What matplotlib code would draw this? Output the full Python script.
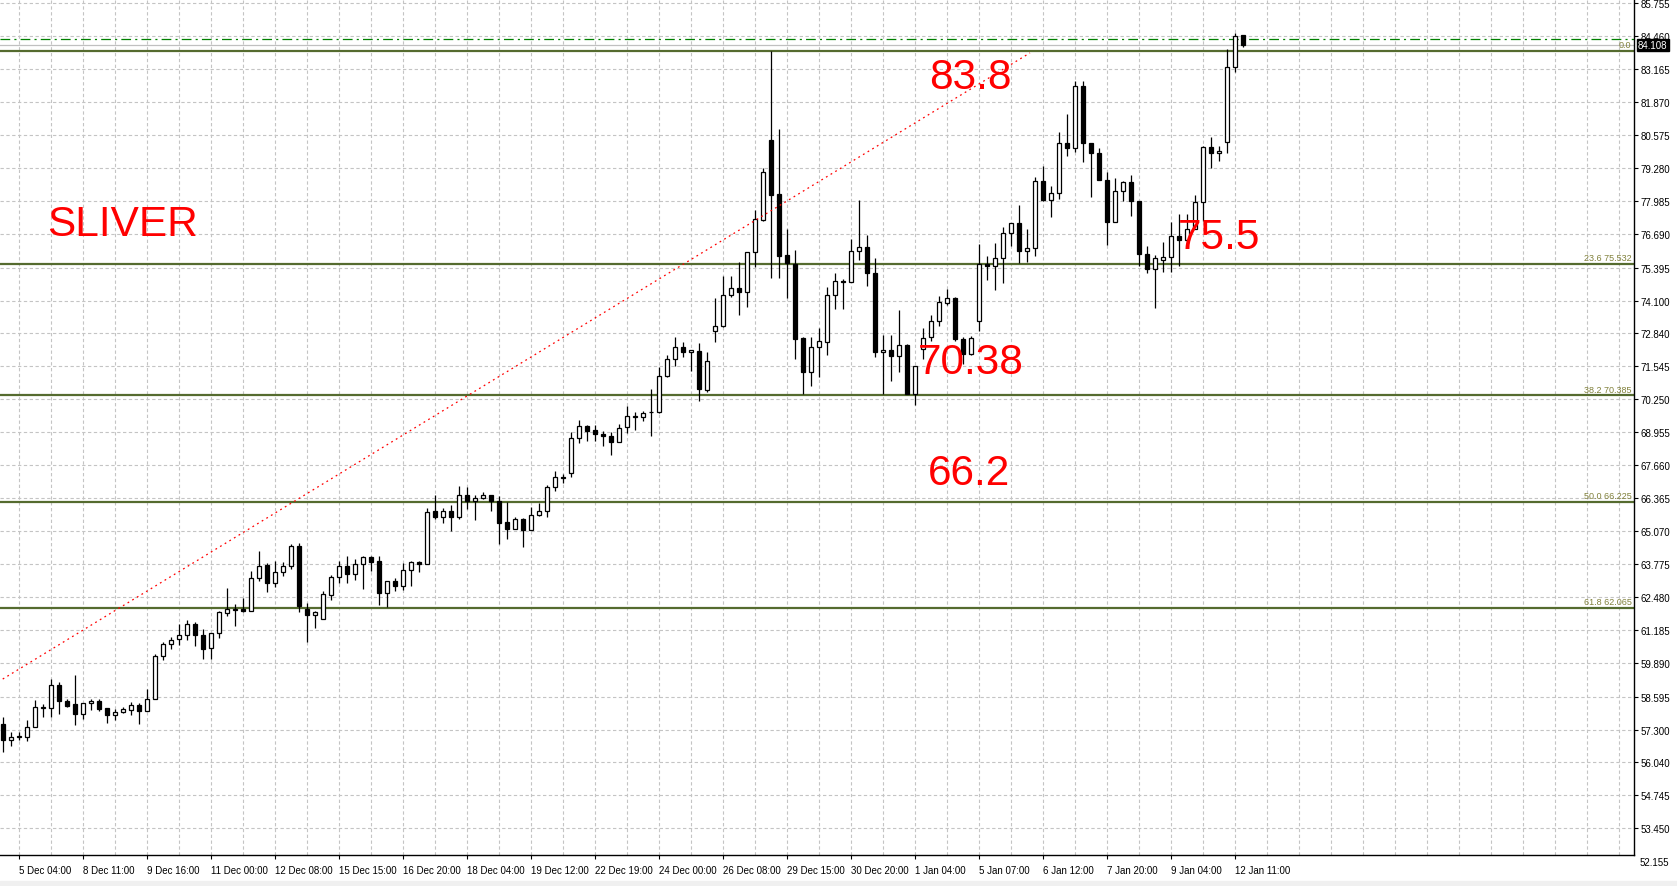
import numpy as np
import matplotlib.pyplot as plt
import matplotlib.transforms as mtransforms
from matplotlib.patches import Rectangle

plt.rcParams['font.family'] = ['Liberation Sans', 'DejaVu Sans']
plt.rcParams['lines.scale_dashes'] = False

# OHLC per bar
opens = [57.53, 56.88, 57.01, 57.01, 57.40, 58.15, 58.14, 59.04, 58.44, 58.31,
         57.90, 58.34, 58.43, 58.16, 57.86, 57.98, 58.08, 58.26, 58.01, 58.48,
         60.18, 60.64, 60.83, 61.00, 61.45, 61.02, 60.49, 61.08, 61.88, 62.00,
         62.03, 61.96, 63.23, 63.75, 63.03, 63.46, 63.70, 64.48, 62.03, 61.80,
         61.63, 62.59, 63.27, 63.71, 63.38, 63.78, 64.05, 63.89, 62.66, 63.11,
         62.94, 63.54, 63.87, 63.78, 65.86, 65.61, 65.86, 65.61, 66.49, 66.27,
         66.37, 66.49, 66.27, 65.43, 65.14, 65.55, 65.10, 65.71, 65.86, 66.80,
         67.20, 67.34, 68.72, 69.19, 69.03, 68.89, 68.81, 68.56, 69.14, 69.56,
         69.53, 69.73, 69.73, 71.14, 71.81, 72.27, 72.08, 72.14, 70.60, 72.92,
         73.09, 74.33, 74.58, 74.43, 75.99, 77.26, 80.39, 78.28, 75.89, 75.52,
         72.64, 71.32, 72.27, 72.49, 74.32, 74.86, 74.82, 76.03, 76.19, 75.17,
         72.08, 72.18, 71.92, 72.36, 70.45, 72.21, 72.66, 73.32, 74.01, 74.19,
         72.60, 72.00, 73.32, 75.52, 75.44, 75.78, 76.73, 77.13, 76.06, 76.15,
         78.77, 78.05, 78.30, 80.26, 80.06, 82.49, 80.26, 79.87, 78.84, 77.17,
         78.41, 78.73, 77.99, 75.93, 75.34, 75.70, 75.82, 76.64, 76.49, 76.90,
         77.95, 80.10, 79.87, 80.32, 83.23, 84.50]
highs = [57.79, 57.20, 57.20, 57.69, 58.47, 58.31, 59.29, 59.16, 58.51, 59.45,
         58.36, 58.51, 58.51, 58.16, 58.09, 58.17, 58.38, 58.34, 58.90, 60.27,
         60.75, 60.91, 61.45, 61.60, 61.51, 61.25, 61.08, 61.96, 62.85, 62.22,
         62.44, 63.50, 64.28, 63.81, 63.89, 63.88, 64.56, 64.61, 62.26, 61.96,
         62.74, 63.36, 63.92, 64.08, 63.98, 64.11, 64.11, 64.09, 63.11, 63.23,
         63.81, 63.89, 63.89, 65.97, 66.50, 65.99, 66.11, 66.85, 66.80, 66.49,
         66.61, 66.49, 66.45, 66.21, 65.63, 65.60, 66.03, 66.19, 66.89, 67.44,
         67.30, 68.95, 69.44, 69.22, 69.24, 68.99, 68.97, 69.28, 69.99, 69.73,
         69.76, 70.65, 71.49, 71.95, 72.66, 72.49, 72.17, 72.44, 72.08, 74.19,
         75.08, 75.05, 75.60, 76.02, 77.65, 79.28, 83.87, 80.82, 76.90, 76.10,
         72.66, 72.66, 73.03, 74.65, 75.18, 74.95, 76.51, 78.04, 76.68, 75.76,
         72.75, 72.75, 73.73, 72.40, 71.53, 73.02, 73.54, 74.29, 74.56, 74.23,
         72.66, 72.73, 76.32, 75.86, 76.36, 76.97, 77.13, 77.84, 76.90, 78.93,
         79.37, 78.59, 80.69, 81.41, 82.71, 82.71, 80.26, 80.08, 79.12, 78.89,
         78.77, 79.02, 77.99, 76.23, 75.90, 76.38, 77.17, 77.49, 77.49, 78.25,
         80.14, 80.49, 80.14, 83.95, 84.58, 84.50]
lows = [56.42, 56.64, 56.88, 56.84, 57.40, 57.78, 57.78, 57.90, 58.17, 57.47,
        57.73, 58.08, 58.01, 57.57, 57.66, 57.97, 57.86, 57.53, 58.01, 58.48,
        60.01, 60.47, 60.60, 60.82, 60.56, 60.05, 60.05, 60.90, 61.76, 61.37,
        61.90, 61.96, 63.10, 62.70, 62.90, 63.33, 63.57, 61.92, 60.74, 61.28,
        61.63, 62.38, 63.04, 63.04, 63.14, 62.81, 63.53, 62.19, 62.09, 62.73,
        62.78, 62.94, 63.49, 63.78, 65.56, 65.41, 65.07, 65.54, 65.95, 65.50,
        66.32, 65.85, 64.58, 64.75, 65.14, 64.44, 65.10, 65.65, 65.63, 66.63,
        66.97, 67.18, 68.51, 68.59, 68.62, 68.39, 68.07, 68.56, 68.90, 69.05,
        69.37, 68.79, 69.70, 71.11, 71.52, 71.88, 71.36, 70.16, 70.54, 72.47,
        73.08, 74.26, 73.55, 73.86, 75.43, 77.23, 75.00, 74.97, 74.22, 71.82,
        70.45, 70.77, 71.12, 71.98, 73.77, 73.77, 74.82, 75.70, 74.69, 71.91,
        70.45, 70.97, 71.29, 70.45, 70.03, 71.82, 72.53, 73.12, 73.93, 72.53,
        71.62, 71.95, 72.89, 74.92, 74.53, 74.80, 76.23, 75.56, 75.63, 75.86,
        78.01, 77.39, 78.08, 79.78, 79.91, 79.51, 78.17, 78.84, 76.29, 77.17,
        78.00, 77.43, 75.44, 75.17, 73.80, 75.21, 75.21, 75.44, 76.40, 76.90,
        77.23, 79.28, 79.55, 79.87, 83.04, 84.02]
closes = [56.88, 57.01, 57.04, 57.40, 58.18, 58.18, 59.04, 58.41, 58.21, 57.90,
          58.34, 58.42, 58.12, 57.86, 57.99, 58.12, 58.26, 58.01, 58.51, 60.18,
          60.66, 60.82, 61.02, 61.45, 61.00, 60.47, 61.08, 61.91, 62.01, 62.02,
          61.95, 63.23, 63.72, 63.03, 63.46, 63.70, 64.48, 62.13, 61.80, 61.91,
          62.60, 63.29, 63.71, 63.38, 63.78, 64.05, 63.88, 62.65, 63.11, 62.94,
          63.54, 63.85, 63.78, 65.82, 65.61, 65.86, 65.61, 66.49, 66.27, 66.37,
          66.49, 66.27, 65.40, 65.14, 65.55, 65.10, 65.71, 65.86, 66.81, 67.19,
          67.17, 68.72, 69.19, 68.98, 68.86, 68.79, 68.55, 69.11, 69.58, 69.58,
          69.71, 69.74, 71.14, 71.81, 72.27, 72.08, 72.17, 70.64, 71.75, 73.11,
          74.33, 74.58, 74.43, 75.99, 77.28, 79.12, 78.25, 75.86, 75.57, 72.60,
          71.32, 72.27, 72.51, 74.32, 74.86, 74.82, 76.03, 76.19, 75.17, 72.08,
          72.18, 71.92, 72.36, 70.45, 71.53, 72.62, 73.32, 74.03, 74.19, 72.60,
          72.01, 72.62, 75.52, 75.44, 75.78, 76.73, 77.13, 76.06, 76.15, 78.77,
          78.05, 78.30, 80.26, 80.06, 82.49, 80.26, 79.87, 78.84, 77.17, 78.41,
          78.73, 77.99, 75.93, 75.34, 75.76, 75.82, 76.64, 76.49, 76.90, 77.95,
          80.10, 79.87, 79.95, 83.23, 84.45, 84.108]

time_labels = ['5 Dec 04:00', '8 Dec 11:00', '9 Dec 16:00', '11 Dec 00:00',
               '12 Dec 08:00', '15 Dec 15:00', '16 Dec 20:00', '18 Dec 04:00',
               '19 Dec 12:00', '22 Dec 19:00', '24 Dec 00:00', '26 Dec 08:00',
               '29 Dec 15:00', '30 Dec 20:00', '1 Jan 04:00', '5 Jan 07:00',
               '6 Jan 12:00', '7 Jan 20:00', '9 Jan 04:00', '12 Jan 11:00']
price_ticks = [85.755, 84.460, 83.165, 81.870, 80.575, 79.280, 77.985, 76.690,
               75.395, 74.100, 72.840, 71.545, 70.250, 68.955, 67.660, 66.365,
               65.070, 63.775, 62.480, 61.185, 59.890, 58.595, 57.300, 56.040,
               54.745, 53.450]
bottom_tick = 52.155

fib_levels = [83.87, 75.532, 70.385, 66.225, 62.065]
fib_names = ['0.0', '23.6 75.532', '38.2 70.385', '50.0 66.225', '61.8 62.065']
bid_price = 84.108
ask_price = 84.34
trend_x = [0, 128.4]
trend_y = [59.28, 83.80]
notes = ['SLIVER', '83.8', '75.5', '70.38', '66.2']
notes_x = [5.5, 115.8, 146.9, 114.4, 115.7]
notes_y = [77.08, 82.85, 76.60, 71.70, 67.36]

o = np.array(opens)
h = np.array(highs)
l = np.array(lows)
c = np.array(closes)
idx = np.arange(len(o))

fig = plt.figure(figsize=(16.77, 8.87), dpi=100)
fig.patches.append(Rectangle((0, 0), 1, 5 / 887, transform=fig.transFigure,
                             color='#f0f0f0', zorder=0))
ax = fig.add_axes([0, 31 / 887, 1634 / 1677, 856 / 887])
ax.set_xlim(-0.34, 203.9)
ax.set_ylim(52.39, 85.91)

# grid
ax.set_yticks(price_ticks)
ax.set_yticklabels(['%.3f' % v for v in price_ticks])
ax.set_xticks(np.arange(2, 2 + 8 * len(time_labels), 8))
ax.set_xticklabels(time_labels)
ax.set_xticks(np.arange(2, 204, 4), minor=True)
gkw = dict(color='#c4c4c4', linewidth=0.8, linestyle=(0, (2.4, 1.8)))
ax.grid(which='both', axis='x', **gkw)
ax.grid(which='major', axis='y', **gkw)
ax.set_axisbelow(True)

ax.yaxis.tick_right()
ax.tick_params(axis='y', which='major', length=3, width=0.8, pad=2, labelsize=7)
ax.tick_params(axis='x', which='major', length=3, width=0.8, pad=4, labelsize=7)
ax.tick_params(axis='x', which='minor', length=0)
for t in ax.get_xticklabels():
    t.set_horizontalalignment('left')

for s in ['top', 'left']:
    ax.spines[s].set_visible(False)
for s in ['right', 'bottom']:
    ax.spines[s].set_linewidth(1.0)

# candles
ax.vlines(idx, l, h, color='black', linewidth=0.9, zorder=3)
up = c >= o
ax.bar(idx, np.abs(c - o), bottom=np.minimum(o, c), width=0.55,
       color=np.where(up, 'white', 'black'), edgecolor='black',
       linewidth=0.9, zorder=4)

# fibo levels
blend = mtransforms.blended_transform_factory(ax.transAxes, ax.transData)
for lev, name in zip(fib_levels, fib_names):
    ax.axhline(lev, color='#556b2f', linewidth=1.6, zorder=2)
    ax.text(0.9985, lev + 0.07, name, transform=blend, ha='right', va='bottom',
            fontsize=6.5, color='#80803a', zorder=5)

# price lines
ax.axhline(bid_price, color='#c0c0c0', linewidth=0.9, zorder=2)
ax.axhline(ask_price, color='#008000', linewidth=0.9, zorder=2,
           linestyle=(0, (7, 3, 1.5, 3)))
ax.text(1.0025, bid_price, '%.3f' % bid_price, transform=blend, ha='left',
        va='center', fontsize=7, color='white', clip_on=False, zorder=6,
        bbox=dict(boxstyle='square,pad=0.12', fc='black', ec='black'))
ax.text(1.0037, -0.0082, '%.3f' % bottom_tick, transform=ax.transAxes,
        ha='left', va='center', fontsize=7, clip_on=False)

# trend line
ax.plot(trend_x, trend_y, color='red', linewidth=0.9,
        linestyle=(0, (1.3, 2.6)), zorder=5)

# labels
for txt, tx, ty in zip(notes, notes_x, notes_y):
    ax.text(tx, ty, txt, color='#ff0000', fontsize=30.5, ha='left', va='center',
            zorder=7)

fig.savefig('out.png', dpi=100)
